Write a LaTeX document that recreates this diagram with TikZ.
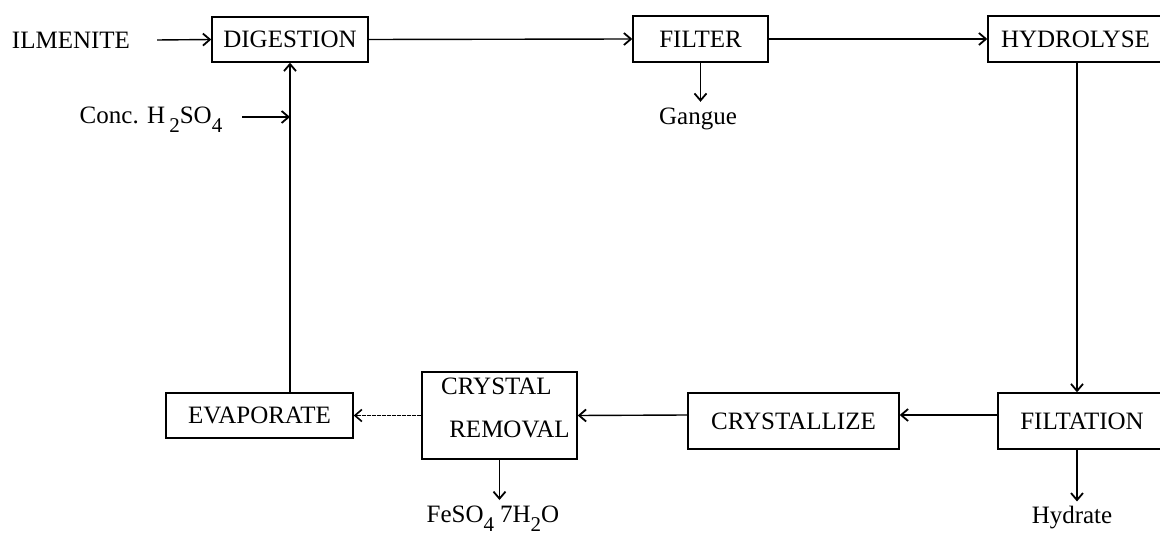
\documentclass[tikz,border=0pt]{standalone}
\usepackage{fontspec}
\setmainfont{Liberation Serif}
\usetikzlibrary{arrows.meta}
\newcommand\lowsub[1]{\raisebox{-0.36em}{\fontsize{21}{21}\selectfont #1}}
\begin{document}
\begin{tikzpicture}[x=1pt,y=-1pt,
  font=\fontsize{25}{30}\selectfont,
  box/.style={draw, line width=1.4pt, inner sep=0pt},
  lbl/.style={inner sep=0pt},
  flow/.style={line width=1.4pt, -{Straight Barb[length=7pt,width=12pt,line width=1.8pt]}},
  thinflow/.style={line width=1.1pt, dash pattern=on 4pt off 1pt, -{Straight Barb[length=7pt,width=12pt,line width=1.6pt]}}]
\useasboundingbox (0,0) rectangle (1160,537);
\clip (0,0) rectangle (1160,537);
% boxes
\node[box, minimum width=156pt, minimum height=45pt] (dig) at (290,39.5) {DIGESTION};
\node[box, minimum width=135pt, minimum height=46pt] (fil) at (700.5,39) {FILTER};
\node[box, minimum width=175pt, minimum height=46pt] (hyd) at (1075.5,39) {HYDROLYSE};
\node[box, minimum width=168pt, minimum height=56pt] (filt) at (1082,421) {FILTATION};
\node[box, minimum width=211pt, minimum height=56pt] (cryz) at (793.5,421) {CRYSTALLIZE};
\node[box, minimum width=155pt, minimum height=87pt] (cr) at (499.5,415.5) {};
\node[lbl] (crA) at (496.5,386) {CRYSTAL};
\node[lbl] (crB) at (509.5,429) {REMOVAL};
\node[box, minimum width=187pt, minimum height=45pt] (evap) at (259.5,415.5) {EVAPORATE};
% labels
\node[lbl] (ilm) at (71,40) {ILMENITE};
\node[lbl] (conc) at (151,120) {Conc. H\,\lowsub{2}SO\lowsub{4}};
\node[lbl] (gang) at (698,119) {Gangue};
\node[lbl] (hydr) at (1072,518) {Hydrate};
\node[lbl] (feso) at (493,519) {FeSO\lowsub{4}\hspace{6pt}7H\lowsub{2}O};
% connectors
\draw[flow] ([xshift=27pt]ilm.east) -- (dig.west);
\draw[flow] (dig.east) -- (fil.west);
\draw[flow] (fil.east) -- (hyd.west |- fil.east);
\draw[flow] (fil.south) -- ([yshift=6pt]gang.north -| fil.south);
\draw[flow] ([xshift=1.5pt]hyd.south) -- ([xshift=1.5pt]hyd.south |- filt.north);
\draw[flow] ([xshift=1.5pt]hyd.south |- filt.south) -- ([xshift=1.5pt,yshift=5pt]hyd.south |- hydr.north);
\draw[flow] ([yshift=6pt]filt.west) -- ([yshift=6pt]cryz.east);
\draw[flow] ([yshift=6pt]cryz.west) -- (cr.east);
\draw[flow] (cr.south) -- ([yshift=6pt]cr.south |- feso.north);
\draw[thinflow] (cr.west) -- (evap.east);
\draw[flow, line width=2.3pt] (evap.north -| dig.south) -- (dig.south);
\draw[flow] ([xshift=20pt]conc.east |- 0,117) -- (dig.south |- 0,117);
\end{tikzpicture}
\end{document}
